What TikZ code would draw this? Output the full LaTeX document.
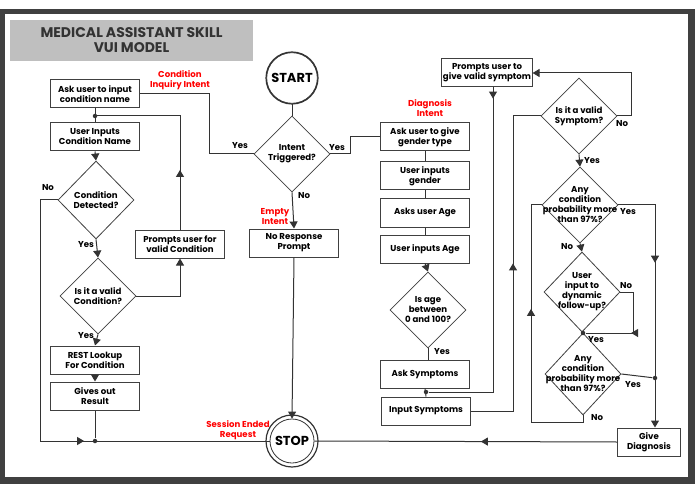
\documentclass[tikz,border=0pt]{standalone}
\usepackage{fontspec}
\setmainfont{Poppins}
\usetikzlibrary{shapes.geometric,arrows.meta,decorations.markings}
\begin{document}
\begin{tikzpicture}[x=1pt,y=-1pt,
  line width=1pt, draw={black!80},
  box/.style={draw=black!75, line width=1pt, fill=white, minimum width=89pt, minimum height=28pt, align=center, font=\fontsize{8.6}{10}\selectfont\bfseries, inner sep=1pt},
  dia/.style={diamond, draw=black!75, line width=0.8pt, minimum width=76pt, minimum height=78pt, inner sep=0pt},
  dt/.style={align=center, font=\fontsize{8.6}{10}\selectfont\bfseries},
  lab/.style={font=\fontsize{8.6}{10}\selectfont\bfseries},
  red/.style={font=\fontsize{8.6}{10}\selectfont\bfseries, text=red, align=center},
  arr/.style={-{Triangle[length=7pt,width=8pt]}},
  mk/.style={postaction={decorate},decoration={markings,mark=at position #1 with {\arrow{Triangle[length=7pt,width=8pt]}}}},
  dot/.style={circle, fill=black!80, inner sep=0pt, minimum size=4.5pt}]
\useasboundingbox (0,0) rectangle (695,494);
\fill[white] (0,0) rectangle (695,494);
\fill[black!75] (0,9) rectangle (695,484);
\fill[white] (5,14) rectangle (688,477);
\node[fill=black!25, minimum width=243pt, minimum height=41pt, align=center, font=\fontsize{14}{15}\selectfont\bfseries, text=black!80] (title) at (131.5,40.5) {MEDICAL ASSISTANT SKILL\\VUI MODEL};

% nodes
\node[box] (ask) at (95,94) {Ask user to input\\condition name};
\node[box] (uin) at (95,137) {User Inputs\\Condition Name};
\node[dia, label={[dt]center:Condition\\Detected?}] (cd) at (96,200) {};
\node[dia, minimum height=76pt, label={[dt]center:Is it a valid\\Condition?}] (vc) at (98,296) {};
\node[box] (rest) at (95,360) {REST Lookup\\For Condition};
\node[box] (give) at (95,396) {Gives out\\Result};
\node[box] (pvc) at (180,244) {Prompts user for\\valid Condition};
\node[circle, draw=black!80, line width=0.8pt, minimum size=44pt, font=\fontsize{13}{14}\selectfont\bfseries] (start) at (292,78) {START};
\draw[red, line width=1.2pt] (start) circle (26pt);
\node[dia, minimum height=76pt, label={[dt]center:Intent\\Triggered?}] (it) at (292,154) {};
\node[box] (nr) at (294,243) {No Response\\Prompt};
\node[circle, draw=black!80, line width=0.8pt, minimum size=44pt, font=\fontsize{13}{14}\selectfont\bfseries] (stop) at (292,441) {STOP};
\draw[red, line width=1.2pt] (stop) circle (26pt);
\node[box] (g1) at (425,137) {Ask user to give\\gender type};
\node[box] (g2) at (425,176) {User inputs\\gender};
\node[box] (a1) at (425,213) {Asks user Age};
\node[box] (a2) at (425,249) {User inputs Age};
\node[dia, minimum height=76pt, label={[dt]center:Is age\\between\\0 and 100?}] (ia) at (428,310) {};
\node[box] (as) at (425,374) {Ask Symptoms};
\node[box] (is) at (426,411) {Input Symptoms};
\node[box] (pvs) at (487,73) {Prompts user to\\give valid symptom};
\node[dia, minimum height=76pt, label={[dt]center:Is it a valid\\Symptom?}] (vs) at (579,116) {};
\node[dia, minimum height=76pt, label={[dt]center:Any\\condition\\probability more\\than 97\%?}] (p1) at (580,205) {};
\node[dia, minimum height=80pt, label={[dt]center:User\\input to\\dynamic\\follow-up?}] (fu) at (582,292) {};
\node[dia, minimum height=82pt, label={[dt]center:Any\\condition\\probability more\\than 97\%?}] (p2) at (583,374) {};
\node[box, minimum width=63pt] (gd) at (649,442) {Give\\Diagnosis};

% junction dots
\coordinate (d1) at (95,116);
\node[dot] (d1n) at (d1) {};
\node[dot] (d2) at (95,441) {};
\node[dot] (d3) at (426,392) {};
\node[dot] (d4) at (583,333) {};
\node[dot] (d5) at (655,378) {};

% connectors
\draw (start) -- (it.north);
\draw (it.west) -- (209,154) -- (209,94) -- (ask.east);
\draw (it.east) -- (350,154) -- (350,137) -- (g1.west);
\draw[arr] (it.south) -- (nr.north);
\draw[arr] (nr.south) -- (stop.north);
\draw (ask.south) -- (uin.north);
\draw[mk=0.3] (pvc.north) -- (180,116) -- (d1);
\draw[arr] (uin.south) -- (cd.north);
\draw[mk=0.62] (cd.west) -- (40,200) -- (40,441) -- (stop.west);
\draw[arr] (cd.south) -- (vc.north);
\draw[arr] (vc.east) -- (180,296) -- (pvc.south);
\draw[arr] (vc.south) -- (rest.north);
\draw[arr] (rest.south) -- (give.north);
\draw (give.south) -- (d2);
\draw[mk=0.45] (gd.west) -- (stop.east);
\draw (g1) -- (g2); \draw (g2) -- (a1); \draw (a1) -- (a2);
\draw[arr] (a2.south) -- (ia.north);
\draw (ia.south) -- (as.north -| ia.south);
\draw (as.south) -- (is.north);
\draw[mk=0.03] (pvs.south -| 493,0) -- (493,392) -- (d3);
\draw[mk=0.52] (is.east) -- (513,411) -- (513,116) -- (vs.west);
\draw[arr] (vs.east) -- (631,116) -- (631,73) -- (pvs.east);
\draw[arr] (vs.south) -- (p1.north);
\draw[mk=0.45] (p1.east) -- (655,205) -- (655,378);
\draw[arr] (655,378) -- (gd.north -| 655,0);
\draw[arr] (p1.south) -- (fu.north);
\draw[mk=0.6] (p2.south) -- (583,422) -- (531,422) -- (531,205) -- (p1.west);
\draw[mk=0.55] (fu.east) -- (633,292) -- (633,333) -- (d4);
\draw (fu.south) -- (p2.north);
\draw (p2.east) -- (d5);

% labels
\node[red] at (180,80) {Condition\\Inquiry Intent};
\node[red] at (430,108) {Diagnosis\\Intent};
\node[red] at (275,217) {Empty\\Intent};
\node[red] at (238,430) {Session Ended\\Request};
\node[lab] at (240,146) {Yes};
\node[lab] at (337,148) {Yes};
\node[lab] at (304,196) {No};
\node[lab] at (48,188) {No};
\node[lab] at (86,245) {Yes};
\node[lab] at (86,336) {Yes};
\node[lab] at (442,352) {Yes};
\node[lab] at (622,124) {No};
\node[lab] at (592,161) {Yes};
\node[lab] at (628,212) {Yes};
\node[lab] at (567,247) {No};
\node[lab] at (626,286) {No};
\node[lab] at (596,340) {Yes};
\node[lab] at (633,385) {Yes};
\node[lab] at (597,418) {No};
\end{tikzpicture}
\end{document}
